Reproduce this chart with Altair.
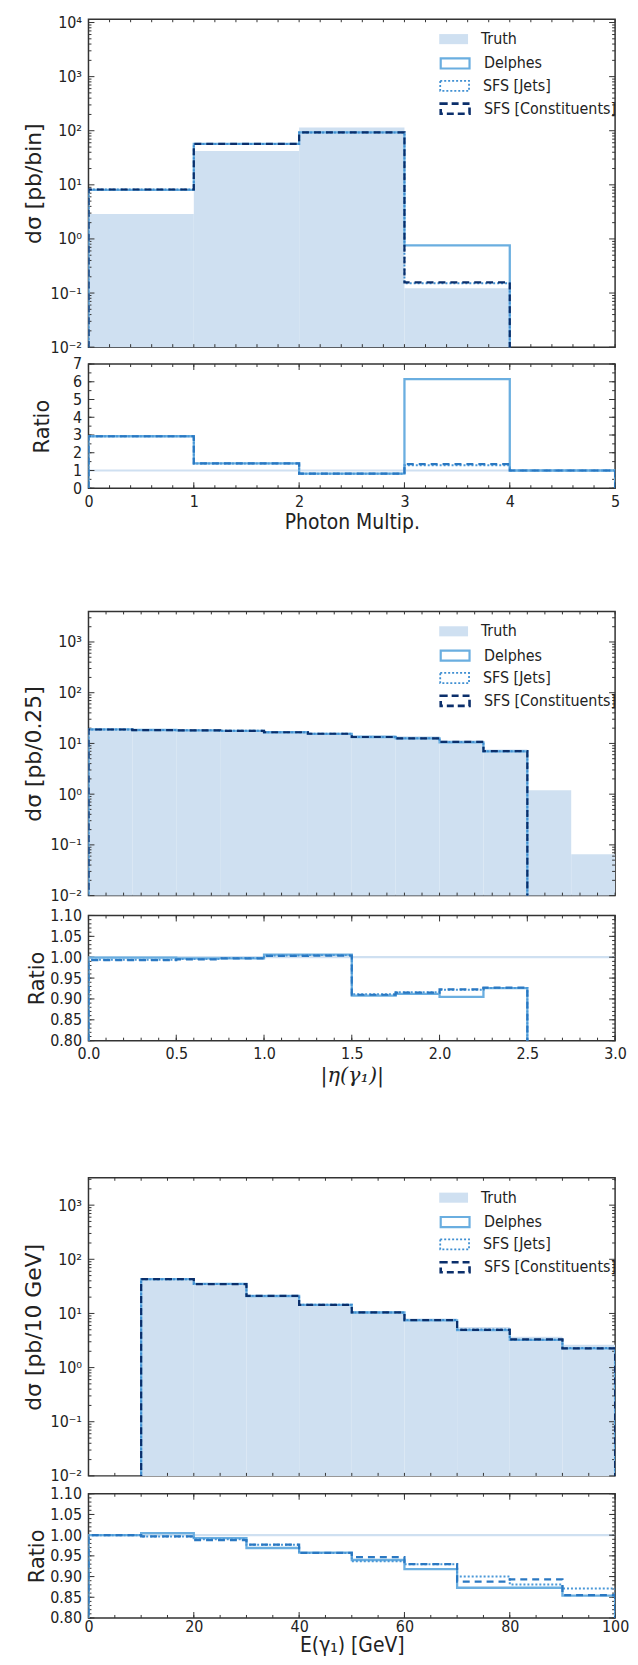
import altair as alt
import pandas as pd

# ---------------- data ----------------
# Panel 1 : photon multiplicity
p1_edges = [0, 1, 2, 3, 4, 5]
p1_truth = [2.9, 42.0, 115.0, 0.123, 0.0]
p1_delphes = [8.1, 57.0, 93.0, 0.757, 0.0]
p1_sfs_jets = [8.2, 57.0, 93.0, 0.152, 0.0]
p1_sfs_const = [8.2, 57.0, 93.0, 0.158, 0.0]
p1_ratio_delphes = [2.93, 1.40, 0.82, 6.15, 1.0]
p1_ratio_jets = [2.93, 1.40, 0.82, 1.30, 1.0]
p1_ratio_const = [2.93, 1.40, 0.82, 1.36, 1.0]

# Panel 2 : |eta(gamma1)|
p2_edges = [0.0, 0.25, 0.5, 0.75, 1.0, 1.25, 1.5, 1.75, 2.0, 2.25, 2.5, 2.75, 3.0]
p2_truth = [18.9, 18.4, 18.2, 17.8, 16.5, 15.4, 14.7, 13.8, 11.6, 7.6, 1.2, 0.065]
p2_delphes = [18.9, 18.4, 18.1, 17.7, 16.6, 15.5, 13.4, 12.6, 10.5, 7.0, 0.0, 0.0]
p2_sfs_jets = [18.8, 18.3, 18.1, 17.7, 16.6, 15.5, 13.4, 12.6, 10.7, 7.0, 0.0, 0.0]
p2_sfs_const = [18.8, 18.3, 18.1, 17.7, 16.6, 15.5, 13.4, 12.6, 10.7, 7.05, 0.0, 0.0]
p2_ratio_delphes = [0.999, 0.999, 0.997, 0.997, 1.006, 1.006, 0.908, 0.912, 0.905, 0.926, 0.0, 0.0]
p2_ratio_jets = [0.994, 0.994, 0.996, 0.998, 1.004, 1.005, 0.911, 0.916, 0.922, 0.926, 0.0, 0.0]
p2_ratio_const = [0.993, 0.993, 0.995, 0.997, 1.003, 1.004, 0.910, 0.915, 0.923, 0.927, 0.0, 0.0]

# Panel 3 : E(gamma1)
p3_edges = [0, 10, 20, 30, 40, 50, 60, 70, 80, 90, 100]
p3_truth = [0.0, 43.0, 35.2, 21.6, 15.0, 11.1, 8.1, 5.6, 3.7, 2.65]
p3_delphes = [0.0, 43.2, 35.0, 21.0, 14.4, 10.4, 7.45, 4.9, 3.25, 2.26]
p3_sfs_jets = [0.0, 42.9, 34.8, 21.1, 14.4, 10.4, 7.55, 5.05, 3.28, 2.31]
p3_sfs_const = [0.0, 42.9, 34.8, 21.1, 14.4, 10.5, 7.55, 4.98, 3.32, 2.27]
p3_ratio_delphes = [1.0, 1.005, 0.993, 0.969, 0.958, 0.940, 0.918, 0.873, 0.873, 0.854]
p3_ratio_jets = [1.0, 0.997, 0.990, 0.977, 0.957, 0.937, 0.930, 0.900, 0.881, 0.871]
p3_ratio_const = [1.0, 0.997, 0.988, 0.977, 0.957, 0.947, 0.930, 0.888, 0.893, 0.855]

# axis ticks / labels
p1_xticks = [0, 1, 2, 3, 4, 5]
p2_xticks = [0.0, 0.5, 1.0, 1.5, 2.0, 2.5, 3.0]
p3_xticks = [0, 20, 40, 60, 80, 100]
p1_ydecades = [-2, -1, 0, 1, 2, 3, 4]
p2_ydecades = [-2, -1, 0, 1, 2, 3]
p3_ydecades = [-2, -1, 0, 1, 2, 3]
p1_rticks = [0, 1, 2, 3, 4, 5, 6, 7]
p23_rticks = [0.80, 0.85, 0.90, 0.95, 1.00, 1.05, 1.10]

labels = ["Truth", "Delphes", "SFS [Jets]", "SFS [Constituents]"]

# ---------------- style ----------------
FONT = "DejaVu Sans Condensed, DejaVu Sans"
VFONT = "DejaVu Sans"
TXT = "#222222"
FRAME = "#333333"
TRUTH_C = "#cfe0f1"
DELPH_C = "#6aaee0"
JETS_C = "#3f8fd2"
CONST_C = "#0b2f6b"
RJETS_C = "#4a98d8"
RCONST_C = "#2a78c2"
W = 530
RECT = "M-1,-0.35H1V0.35H-1Z"
SUP = {"-": "\u207b", "0": "\u2070", "1": "\u00b9", "2": "\u00b2", "3": "\u00b3", "4": "\u2074"}
LEG_X = 353
LEG_Y = [5.5, 28.5, 51.5, 74]


def sup(e):
    return "10" + "".join(SUP[c] for c in str(e))


def log_expr(decs):
    s = ""
    for e in decs[:-1]:
        s += f"datum.value < {10 ** (e + 0.5)} ? '{sup(e)}' : "
    return s + f"'{sup(decs[-1])}'"


def step_df(edges, vals, floor):
    xs, ys = [edges[0]], [floor]
    for i, v in enumerate(vals):
        vv = v if v > 0 else floor
        xs += [edges[i], edges[i + 1]]
        ys += [vv, vv]
    xs.append(edges[-1])
    ys.append(floor)
    return pd.DataFrame({"x": xs, "y": ys, "o": list(range(len(xs)))})


def tick_layers(xs, ys, xax, yax, xmaj, xmin, ymaj, ymin, h):
    out = []
    for vals, L in ((xmaj, 6), (xmin, 3)):
        if not vals:
            continue
        d = pd.DataFrame({"t": vals})
        b = alt.Chart(d).mark_rule(color=FRAME, strokeWidth=1)
        out.append(b.encode(x=alt.X("t:Q", scale=xs, axis=xax), y=alt.value(h), y2=alt.value(h - L)))
        out.append(b.encode(x=alt.X("t:Q", scale=xs, axis=xax), y=alt.value(0), y2=alt.value(L)))
    for vals, L in ((ymaj, 6), (ymin, 3)):
        if not vals:
            continue
        d = pd.DataFrame({"t": vals})
        b = alt.Chart(d).mark_rule(color=FRAME, strokeWidth=1)
        out.append(b.encode(y=alt.Y("t:Q", scale=ys, axis=yax), x=alt.value(0), x2=alt.value(L)))
        out.append(b.encode(y=alt.Y("t:Q", scale=ys, axis=yax), x=alt.value(W), x2=alt.value(W - L)))
    return out


def leg(i, **kw):
    base = dict(title=None, orient="none", legendX=LEG_X, legendY=LEG_Y[i], padding=0,
                labelFont=FONT, labelFontSize=16, labelColor=TXT, symbolType=RECT,
                symbolSize=841, symbolStrokeWidth=2.2, labelOffset=13)
    base.update(kw)
    return alt.Legend(**base)


def main_panel(edges, truth, dl, jt, ct, ytop, decs, ytitle, h, xminstep):
    x0, x1 = edges[0], edges[-1]
    xs = alt.Scale(domain=[x0, x1], nice=False, zero=False)
    ys = alt.Scale(type="log", domain=[0.01, ytop], nice=False)
    yaxis = alt.Axis(values=[10.0 ** e for e in decs], labelExpr=log_expr(decs), title=ytitle,
                     titleFont=VFONT, titleFontSize=22, titlePadding=5, labelPadding=7)
    tdf = pd.DataFrame({"lo": edges[:-1], "hi": edges[1:], "v": truth})
    tdf = tdf[tdf.v > 0].assign(base=1e-3, lab=labels[0])
    truth_l = alt.Chart(tdf).mark_rect(clip=True).encode(
        x=alt.X("lo:Q", scale=xs, axis=None), x2="hi:Q",
        y=alt.Y("v:Q", scale=ys, axis=yaxis), y2="base:Q",
        fill=alt.Fill("lab:N", scale=alt.Scale(domain=[labels[0]], range=[TRUTH_C]),
                      legend=leg(0, symbolStrokeWidth=0)))
    d_l = alt.Chart(step_df(edges, dl, 1e-4).assign(lab=labels[1])).mark_line(
        clip=True, strokeWidth=2.3).encode(
        x=alt.X("x:Q", scale=xs, axis=None), y=alt.Y("y:Q", scale=ys, axis=yaxis), order="o:Q",
        stroke=alt.Stroke("lab:N", scale=alt.Scale(domain=[labels[1]], range=[DELPH_C]),
                          legend=leg(1, symbolFillColor="transparent")))
    j_l = alt.Chart(step_df(edges, jt, 1e-4).assign(lab=labels[2])).mark_line(
        clip=True, strokeWidth=2, color=JETS_C).encode(
        x=alt.X("x:Q", scale=xs, axis=None), y=alt.Y("y:Q", scale=ys, axis=yaxis), order="o:Q",
        strokeDash=alt.StrokeDash("lab:N", scale=alt.Scale(domain=[labels[2]], range=[[2, 2]]),
                                  legend=leg(2, symbolStrokeColor=JETS_C, symbolFillColor="transparent",
                                             symbolStrokeWidth=1.8)))
    c_l = alt.Chart(step_df(edges, ct, 1e-4).assign(lab=labels[3])).mark_line(
        clip=True, strokeWidth=2.2, color=CONST_C, strokeDash=[7, 5]).encode(
        x=alt.X("x:Q", scale=xs, axis=None), y=alt.Y("y:Q", scale=ys, axis=yaxis), order="o:Q",
        opacity=alt.Opacity("lab:N", scale=alt.Scale(domain=[labels[3]], range=[1]),
                            legend=leg(3, symbolStrokeColor=CONST_C, symbolFillColor="transparent",
                                       symbolDash=[7, 4], symbolStrokeWidth=2.6)))
    xmin = [x for x in [x0 + k * xminstep for k in range(0, 200)] if x <= x1 + 1e-9]
    ymaj = [10.0 ** e for e in decs]
    ymin = [k * 10.0 ** e for e in range(decs[0], decs[-1] + 1) for k in range(2, 10)
            if k * 10.0 ** e < ytop]
    ticks = tick_layers(xs, ys, None, yaxis, [], xmin, ymaj, ymin, h)
    return alt.layer(truth_l, *ticks, d_l, j_l, c_l).properties(width=W, height=h)


def ratio_panel(edges, rd, rj, rc, rdom, rvals, rfmt, xvals, xfmt, xtitle, h, xminstep, rminstep,
                rtitle_pad, xtitle_font=FONT, xtitle_style="normal", lpad=5, tpad=3):
    x0, x1 = edges[0], edges[-1]
    xs = alt.Scale(domain=[x0, x1], nice=False, zero=False)
    ys = alt.Scale(domain=rdom, nice=False, zero=False)
    xaxis = alt.Axis(values=xvals, format=xfmt, title=xtitle, titleFont=xtitle_font,
                     titleFontStyle=xtitle_style, titleFontSize=21, labelPadding=lpad,
                     titlePadding=tpad, labelFlush=False)
    yaxis = alt.Axis(values=rvals, format=rfmt, title="Ratio", titleFont=VFONT, titleFontSize=21,
                     titlePadding=rtitle_pad, labelPadding=7)
    one = alt.Chart(pd.DataFrame({"y": [1.0]})).mark_rule(color=TRUTH_C, strokeWidth=2.2).encode(
        y=alt.Y("y:Q", scale=ys, axis=yaxis))
    d_l = alt.Chart(step_df(edges, rd, 0.0)).mark_line(clip=True, strokeWidth=2.3, color=DELPH_C).encode(
        x=alt.X("x:Q", scale=xs, axis=xaxis), y=alt.Y("y:Q", scale=ys, axis=yaxis), order="o:Q")
    j_l = alt.Chart(step_df(edges, rj, 0.0)).mark_line(clip=True, strokeWidth=2, color=RJETS_C,
                                                      strokeDash=[2, 2]).encode(
        x=alt.X("x:Q", scale=xs, axis=xaxis), y=alt.Y("y:Q", scale=ys, axis=yaxis), order="o:Q")
    c_l = alt.Chart(step_df(edges, rc, 0.0)).mark_line(clip=True, strokeWidth=2.2, color=RCONST_C,
                                                      strokeDash=[7, 5]).encode(
        x=alt.X("x:Q", scale=xs, axis=xaxis), y=alt.Y("y:Q", scale=ys, axis=yaxis), order="o:Q")
    xmin = [x for x in [x0 + k * xminstep for k in range(0, 200)] if x <= x1 + 1e-9]
    n = int(round((rdom[1] - rdom[0]) / rminstep))
    ymin = [rdom[0] + k * rminstep for k in range(n + 1)]
    ticks = tick_layers(xs, ys, xaxis, yaxis, xvals, xmin, rvals, ymin, h)
    return alt.layer(one, *ticks, d_l, j_l, c_l).properties(width=W, height=h)


def spacer(h):
    return alt.Chart(pd.DataFrame({"a": [0]})).mark_point(opacity=0).encode(
        x=alt.X("a:Q", axis=None), y=alt.Y("a:Q", axis=None)
    ).properties(width=W, height=h, view=alt.ViewBackground(stroke=None))


M1 = main_panel(p1_edges, p1_truth, p1_delphes, p1_sfs_jets, p1_sfs_const, 11500, p1_ydecades,
                "d\u03c3 [pb/bin]", 330, 0.2)
R1 = ratio_panel(p1_edges, p1_ratio_delphes, p1_ratio_jets, p1_ratio_const, [0, 7], p1_rticks, "d",
                 p1_xticks, "d", "Photon Multip.", 125, 0.2, 0.5, 20)
M2 = main_panel(p2_edges, p2_truth, p2_delphes, p2_sfs_jets, p2_sfs_const, 4000, p2_ydecades,
                "d\u03c3 [pb/0.25]", 286, 0.1)
R2 = ratio_panel(p2_edges, p2_ratio_delphes, p2_ratio_jets, p2_ratio_const, [0.8, 1.1], p23_rticks, ".2f",
                 p2_xticks, ".1f", "|\u03b7(\u03b3\u2081)|", 126, 0.1, 0.01, 2,
                 xtitle_font="DejaVu Serif", xtitle_style="italic")
M3 = main_panel(p3_edges, p3_truth, p3_delphes, p3_sfs_jets, p3_sfs_const, 3200, p3_ydecades,
                "d\u03c3 [pb/10 GeV]", 300, 5)
R3 = ratio_panel(p3_edges, p3_ratio_delphes, p3_ratio_jets, p3_ratio_const, [0.8, 1.1], p23_rticks, ".2f",
                 p3_xticks, "d", "E(\u03b3\u2081) [GeV]", 125, 5, 0.01, 2, lpad=1, tpad=0)

chart = alt.vconcat(M1, spacer(17), R1, spacer(124), M2, spacer(20), R2, spacer(138), M3, spacer(18), R3,
                    spacing=0, bounds="flush").resolve_scale(
    x="independent", y="independent", fill="independent", stroke="independent",
    strokeDash="independent", opacity="independent"
).resolve_legend(fill="independent", stroke="independent", strokeDash="independent",
                 opacity="independent").properties(
    padding={"left": 13, "top": 0, "right": 0, "bottom": 0}
).configure_view(stroke=FRAME, strokeWidth=1.5).configure_axis(
    labelFont=FONT, labelFontSize=16, labelColor=TXT, titleFont=FONT, titleColor=TXT,
    titleFontWeight="normal", domain=False, ticks=False, grid=False
)

chart.save("out.html", embed_options={"renderer": "svg", "actions": False})
